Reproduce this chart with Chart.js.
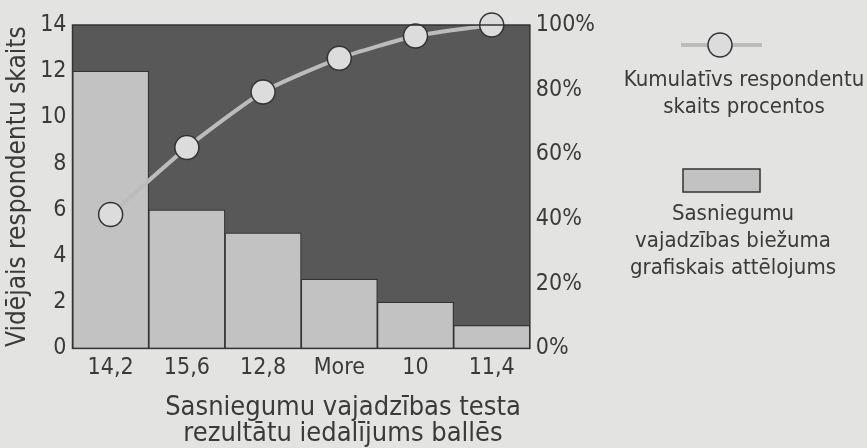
<!DOCTYPE html>
<html>
<head>
<meta charset="utf-8">
<script src="https://cdn.jsdelivr.net/npm/chart.js@4"></script>
<style>
  html, body { margin: 0; padding: 0; background: #e3e3e1; }
  #wrap { width: 867px; height: 448px; position: relative; }
</style>
</head>
<body>
<div id="wrap"><canvas id="myChart" width="867" height="448"></canvas></div>
<script>
const categories = ['14,2', '15,6', '12,8', 'More', '10', '11,4'];
const counts = [12, 6, 5, 3, 2, 1];
const cumulativePct = [41.4, 62.1, 79.3, 89.7, 96.6, 100];
const leftTicks = [0, 2, 4, 6, 8, 10, 12, 14];
const rightTicks = ['0%', '20%', '40%', '60%', '80%', '100%'];

const fontFamily = "'DejaVu Sans Condensed', 'Liberation Sans', sans-serif";
const textColor = '#3a3a3a';

const lineLabel = ['Kumulatīvs respondentu', 'skaits procentos'];
const barLabel = ['Sasniegumu', 'vajadzības biežuma', 'grafiskais attēlojums'];
const xTitle = ['Sasniegumu vajadzības testa', 'rezultātu iedalījums ballēs'];

// dark plot background + legend + x title
const decorPlugin = {
  id: 'decor',
  beforeDatasetsDraw(chart) {
    const { ctx, chartArea: a } = chart;
    ctx.save();
    ctx.fillStyle = '#585858';
    ctx.fillRect(a.left, a.top, a.right - a.left, a.bottom - a.top);
    ctx.restore();
  },
  afterDraw(chart) {
    const { ctx, chartArea: a } = chart;
    ctx.save();
    ctx.strokeStyle = '#333';
    ctx.lineWidth = 1.5;
    ctx.strokeRect(a.left, a.top, a.right - a.left, a.bottom - a.top);

    ctx.fillStyle = textColor;
    ctx.textAlign = 'center';
    ctx.textBaseline = 'middle';
    ctx.font = '22px ' + fontFamily;

    // legend: line with circle
    ctx.strokeStyle = '#bcbcbc';
    ctx.lineWidth = 4;
    ctx.beginPath();
    ctx.moveTo(681, 45);
    ctx.lineTo(762, 45);
    ctx.stroke();
    ctx.beginPath();
    ctx.arc(720, 45, 12, 0, Math.PI * 2);
    ctx.fillStyle = '#dcdcdc';
    ctx.fill();
    ctx.strokeStyle = '#333';
    ctx.lineWidth = 1.5;
    ctx.stroke();

    ctx.fillStyle = textColor;
    lineLabel.forEach((t, i) => ctx.fillText(t, 744, 80 + i * 27));

    // legend: bar
    ctx.fillStyle = '#c2c2c2';
    ctx.fillRect(683, 169, 77, 23);
    ctx.strokeStyle = '#333';
    ctx.strokeRect(683, 169, 77, 23);
    ctx.fillStyle = textColor;
    barLabel.forEach((t, i) => ctx.fillText(t, 733, 214 + i * 27));

    // x axis title
    ctx.font = '27px ' + fontFamily;
    xTitle.forEach((t, i) => ctx.fillText(t, 343, 408 + i * 26));
    ctx.restore();
  }
};

const ctx = document.getElementById('myChart').getContext('2d');
const chart = new Chart(ctx, {
  data: {
    labels: categories,
    datasets: [
      {
        type: 'line',
        label: lineLabel.join(' '),
        data: cumulativePct,
        yAxisID: 'y1',
        borderColor: '#bcbcbc',
        borderWidth: 4,
        pointRadius: 12,
        pointHoverRadius: 12,
        pointBackgroundColor: '#dcdcdc',
        pointBorderColor: '#333',
        pointBorderWidth: 1.5,
        tension: 0.2,
        clip: false,
        order: 0
      },
      {
        type: 'bar',
        label: barLabel.join(' '),
        data: counts,
        yAxisID: 'y',
        backgroundColor: '#c2c2c2',
        borderColor: '#333',
        borderWidth: 1.2,
        barPercentage: 1,
        categoryPercentage: 1,
        order: 1
      }
    ]
  },
  options: {
    responsive: false,
    animation: false,
    layout: { padding: { top: 25, right: 266, bottom: 60, left: 3 } },
    plugins: {
      legend: { display: false },
      tooltip: { enabled: false }
    },
    scales: {
      x: {
        grid: { display: false, drawTicks: false },
        border: { display: false },
        ticks: { color: textColor, font: { family: fontFamily, size: 23 }, padding: 6 }
      },
      y: {
        position: 'left',
        min: 0,
        max: 14,
        afterBuildTicks: (axis) => { axis.ticks = leftTicks.map(v => ({ value: v })); },
        grid: { display: false, drawTicks: false },
        border: { display: false },
        ticks: { color: textColor, font: { family: fontFamily, size: 23 }, padding: 6 },
        title: {
          display: true,
          text: 'Vidējais respondentu skaits',
          color: textColor,
          font: { family: fontFamily, size: 26 },
          padding: { top: 0, bottom: 0 }
        }
      },
      y1: {
        position: 'right',
        min: 0,
        max: 100,
        afterBuildTicks: (axis) => { axis.ticks = rightTicks.map(t => ({ value: parseFloat(t) })); },
        grid: { display: false, drawTicks: false },
        border: { display: false },
        ticks: {
          color: textColor,
          font: { family: fontFamily, size: 23 },
          padding: 6,
          callback: (v) => v + '%'
        }
      }
    }
  },
  plugins: [decorPlugin]
});
</script>
</body>
</html>
